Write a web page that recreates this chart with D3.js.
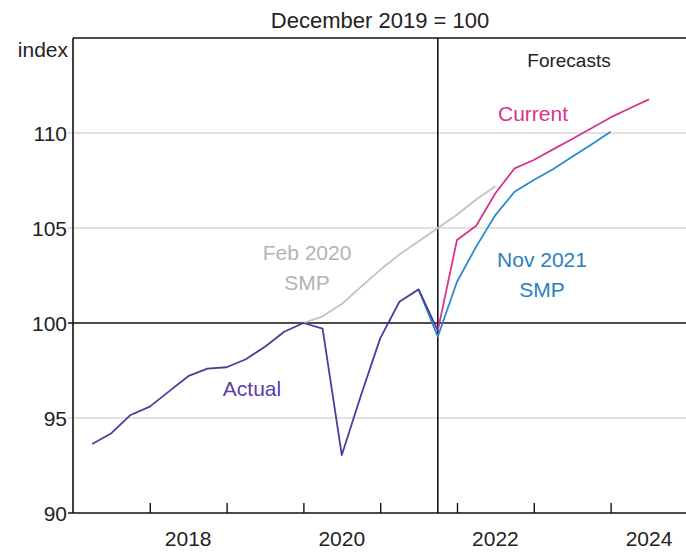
<!DOCTYPE html>
<html>
<head>
<meta charset="utf-8">
<script src="https://cdn.jsdelivr.net/npm/d3@7"></script>
<style>
  html, body { margin: 0; padding: 0; background: #fff; }
  svg { display: block; font-family: "Liberation Sans", Arial, sans-serif; }
</style>
</head>
<body>
<svg id="chart" width="686" height="552"></svg>
<script>
// ---- data (quarterly, plotted at quarter end) ----
const actualStart = "2017-Q1";
const actualValues = [93.63, 94.2, 95.16, 95.6, 96.4, 97.2, 97.6, 97.67, 98.09, 98.75, 99.54, 100.0,
                      99.7, 93.05, 96.2, 99.19, 101.12, 101.77, 99.6];

const feb2020Start = "2019-Q4";
const feb2020Values = [100.0, 100.35, 101.0, 101.9, 102.8, 103.6, 104.3, 105.0, 105.7, 106.5, 107.2];

const nov2021Start = "2021-Q2";
const nov2021Values = [101.77, 99.28, 102.17, 104.02, 105.68, 106.91, 107.53, 108.09, 108.75, 109.4, 110.07];

const currentStart = "2021-Q3";
const currentValues = [99.6, 104.37, 105.12, 106.83, 108.14, 108.58, 109.14, 109.68, 110.25, 110.82, 111.3, 111.77];

const yTicks = [90, 95, 100, 105, 110];
const xTickYears = [2018, 2019, 2020, 2021, 2022, 2023, 2024];
const xLabelYears = [2018, 2020, 2022, 2024];
const forecastStart = "2021-Q3";

const title = "December 2019 = 100";
const yUnit = "index";

// ---- helpers ----
function qToYear(q) { const [yr, n] = q.split("-Q"); return +yr + (+n) / 4; }
function series(start, values) {
  const s = qToYear(start);
  return values.map((v, i) => ({ t: s + i * 0.25, v }));
}

const svg = d3.select("#chart");
const mLeft = 73, mRight = 687.4, mTop = 38, mBottom = 513;

const x = d3.scaleLinear().domain([2017, 2025]).range([mLeft, mRight]);
const y = d3.scaleLinear().domain([90, 115]).range([mBottom, mTop]);

// gridlines
svg.append("g").selectAll("line").data(yTicks.filter(d => d !== 100 && d !== 90)).join("line")
  .attr("x1", mLeft - 5).attr("x2", mRight).attr("y1", d => y(d)).attr("y2", d => y(d))
  .attr("stroke", "#c4c4c4").attr("stroke-width", 1.2);

// y tick labels
svg.append("g").selectAll("text").data(yTicks).join("text")
  .attr("x", 67).attr("y", d => y(d)).attr("dy", "0.36em")
  .attr("text-anchor", "end").attr("font-size", 21).attr("fill", "#222")
  .text(d => d);

svg.append("text").attr("x", 68).attr("y", 57).attr("text-anchor", "end")
  .attr("font-size", 21).attr("fill", "#222").text(yUnit);

// title
svg.append("text").attr("x", 380).attr("y", 28).attr("text-anchor", "middle")
  .attr("font-size", 22).attr("fill", "#222").text(title);

// 100 line
svg.append("line").attr("x1", mLeft - 5).attr("x2", mRight).attr("y1", y(100)).attr("y2", y(100))
  .attr("stroke", "#111").attr("stroke-width", 1.6);

// x axis (ticks inward)
const xAxis = d3.axisBottom(x).tickValues(xTickYears).tickSize(-10).tickFormat("");
const gx = svg.append("g").attr("transform", `translate(0,${mBottom})`).call(xAxis);
gx.select(".domain").remove();
gx.selectAll(".tick line").attr("stroke", "#111").attr("stroke-width", 1.4);

svg.append("g").selectAll("text").data(xLabelYears).join("text")
  .attr("x", d => x(d + 0.5)).attr("y", 546).attr("text-anchor", "middle")
  .attr("font-size", 21).attr("fill", "#222").text(d => d);

// frame
svg.append("line").attr("x1", mLeft - 5).attr("x2", mRight).attr("y1", mBottom).attr("y2", mBottom)
  .attr("stroke", "#111").attr("stroke-width", 1.6);
svg.append("line").attr("x1", mLeft).attr("x2", mLeft).attr("y1", mTop).attr("y2", mBottom)
  .attr("stroke", "#111").attr("stroke-width", 1.6);
svg.append("line").attr("x1", mLeft).attr("x2", mRight).attr("y1", mTop).attr("y2", mTop)
  .attr("stroke", "#111").attr("stroke-width", 1.6);

// forecast divider
const fx = x(qToYear(forecastStart));
svg.append("line").attr("x1", fx).attr("x2", fx).attr("y1", mTop).attr("y2", mBottom)
  .attr("stroke", "#111").attr("stroke-width", 1.6);

// lines
const line = d3.line().x(d => x(d.t)).y(d => y(d.v));
function drawLine(data, color, w) {
  svg.append("path").datum(data).attr("d", line)
    .attr("fill", "none").attr("stroke", color).attr("stroke-width", w)
    .attr("stroke-linejoin", "round");
}
drawLine(series(feb2020Start, feb2020Values), "#c3c3c3", 1.8);
drawLine(series(nov2021Start, nov2021Values), "#2a8ad0", 1.8);
drawLine(series(currentStart, currentValues), "#d8348a", 1.8);
drawLine(series(actualStart, actualValues), "#4f3b9c", 1.8);

// labels
function label(lines, cx, by, color, size) {
  const t = svg.append("text").attr("text-anchor", "middle").attr("font-size", size).attr("fill", color);
  lines.forEach((s, i) => t.append("tspan").attr("x", cx).attr("y", by + i * 30).text(s));
}
label(["Forecasts"], 569, 67, "#222", 19);
label(["Current"], 533, 121, "#d8348a", 21);
label(["Nov 2021", "SMP"], 542, 267, "#2a7fc0", 21);
label(["Feb 2020", "SMP"], 307, 260, "#b3b3b3", 21);
label(["Actual"], 252, 396, "#5a3ea6", 21);
</script>
</body>
</html>
